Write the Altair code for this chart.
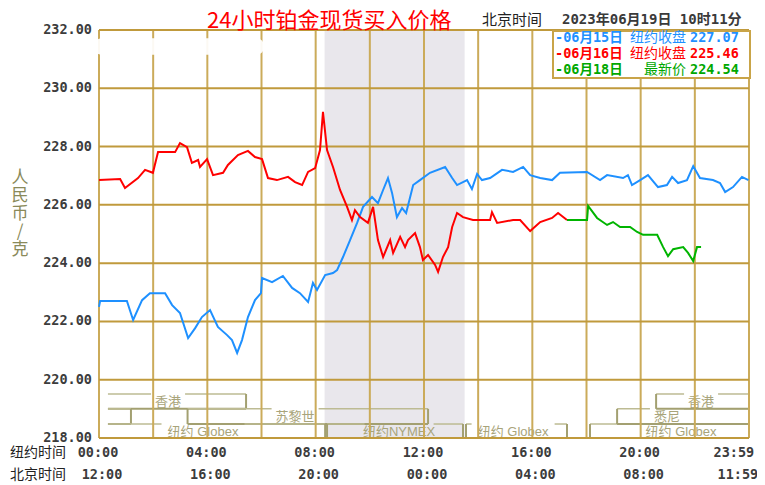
import altair as alt
import pandas as pd

# ---------------- data ----------------
blue_hours = [0.00, 0.04, 0.33, 1.03, 1.26, 1.59, 1.88, 2.44, 2.70, 2.99, 3.29, 3.55, 3.80, 4.10, 4.39,
              4.73, 4.91, 5.10, 5.28, 5.50, 5.76, 5.98, 6.02, 6.39, 6.79, 7.13, 7.42, 7.72, 7.90, 8.05,
              8.35, 8.64, 8.79, 9.01, 9.27, 9.53, 9.75, 10.08, 10.30, 10.49, 10.67, 10.82, 11.00, 11.19,
              11.34, 11.60, 11.85, 12.22, 12.78, 13.04, 13.22, 13.59, 13.77, 13.96, 14.14, 14.44, 14.88,
              15.29, 15.66, 15.92, 16.29, 16.73, 17.02, 18.02, 18.50, 18.76, 19.35, 19.53, 19.68, 19.98,
              20.27, 20.64, 20.97, 21.16, 21.38, 21.71, 21.94, 22.19, 22.67, 22.93, 23.12, 23.41, 23.74, 23.98]
blue_values = [222.50, 222.70, 222.70, 222.70, 222.05, 222.73, 222.97, 222.97, 222.56, 222.29, 221.43,
               221.77, 222.15, 222.39, 221.81, 221.53, 221.36, 220.92, 221.36, 222.15, 222.73, 222.97,
               223.49, 223.35, 223.56, 223.15, 222.97, 222.67, 223.32, 223.08, 223.59, 223.66, 223.76,
               224.21, 224.79, 225.38, 225.93, 226.27, 226.06, 226.51, 226.92, 226.41, 225.58, 225.89,
               225.72, 226.68, 226.85, 227.10, 227.30, 226.92, 226.68, 226.85, 226.54, 227.06, 226.85,
               226.92, 227.20, 227.13, 227.30, 227.02, 226.92, 226.85, 227.10, 227.13, 226.85, 227.02,
               226.92, 227.02, 226.68, 226.85, 227.02, 226.61, 226.68, 226.96, 226.75, 226.85, 227.33,
               226.92, 226.85, 226.75, 226.44, 226.61, 226.96, 226.85]

red_hours = [0.00, 0.78, 0.96, 1.44, 1.70, 1.99, 2.18, 2.81, 2.99, 3.25, 3.43, 3.66, 3.73, 3.99, 4.21,
             4.58, 4.76, 5.13, 5.50, 5.76, 6.02, 6.24, 6.57, 6.98, 7.24, 7.50, 7.72, 7.98, 8.16, 8.27,
             8.42, 8.64, 8.90, 9.16, 9.34, 9.45, 9.64, 9.93, 10.12, 10.30, 10.49, 10.75, 10.86, 11.12,
             11.30, 11.41, 11.67, 11.85, 11.96, 12.15, 12.41, 12.52, 12.70, 12.89, 13.04, 13.22, 13.44,
             13.81, 14.44, 14.51, 14.70, 15.29, 15.55, 15.92, 16.29, 16.73, 16.95, 17.28]
red_values = [226.85, 226.89, 226.58, 226.92, 227.20, 227.10, 227.81, 227.81, 228.12, 227.98, 227.44,
              227.54, 227.30, 227.57, 227.02, 227.10, 227.37, 227.71, 227.85, 227.64, 227.57, 226.92,
              226.85, 226.96, 226.78, 226.68, 227.13, 227.26, 227.88, 229.19, 227.88, 227.30, 226.51,
              225.93, 225.48, 225.82, 225.58, 225.38, 225.93, 224.79, 224.21, 224.79, 224.35, 224.90,
              224.55, 224.79, 225.03, 224.55, 224.11, 224.28, 223.94, 223.70, 224.21, 224.55, 225.24,
              225.72, 225.58, 225.48, 225.48, 225.75, 225.38, 225.48, 225.48, 225.10, 225.41, 225.55,
              225.72, 225.48]

green_hours = [17.28, 18.02, 18.06, 18.39, 18.76, 18.98, 19.24, 19.61, 19.87, 20.09, 20.61, 20.83,
               21.01, 21.20, 21.57, 21.75, 21.94, 22.08, 22.23]
green_values = [225.48, 225.48, 225.96, 225.55, 225.31, 225.41, 225.24, 225.24, 225.07, 224.97, 224.97,
                224.55, 224.24, 224.48, 224.55, 224.35, 224.07, 224.55, 224.55]

series_names = ["06月15日", "06月16日", "06月18日"]
series_colors = ["#1e90ff", "#ff0000", "#00b400"]

y_ticks = [218, 220, 222, 224, 226, 228, 230, 232]
grid_hours = list(range(0, 25, 2))

tick_hours = [0, 4, 8, 12, 16, 20, 23.48]
ny_labels = ["00:00", "04:00", "08:00", "12:00", "16:00", "20:00", "23:59"]
bj_labels = ["12:00", "16:00", "20:00", "00:00", "04:00", "08:00", "11:59"]
row_names = ["纽约时间", "北京时间"]

nymex_span = [8.33, 13.5]

session_labels = ["香港", "", "苏黎世", "纽约 Globex", "纽约NYMEX", "纽约 Globex", "纽约 Globex", "悉尼", "香港"]
session_start = [0.33, 0.33, 3.27, 0.33, 8.42, 13.55, 18.13, 19.13, 20.57]
session_end = [5.43, 1.18, 12.15, 8.35, 13.44, 17.28, 24.0, 24.0, 24.0]
session_row = [1, 2, 2, 3, 3, 3, 3, 2, 1]
session_label_hour = [2.55, 0, 7.24, 3.84, 11.08, 15.29, 21.49, 20.97, 22.23]
session_open_left = [True, True, False, True, False, False, False, False, False]
session_open_right = [False, False, False, False, False, False, True, True, True]
row_top = [219.51, 219.0, 218.48]
row_bottom = [219.0, 218.48, 218.0]

watermark_hours = [-0.2, 6.1]
watermark_values = [231.15, 231.72]

legend_dates = ["-06月15日", "-06月16日", "-06月18日"]
legend_kinds = ["纽约收盘", "纽约收盘", "最新价"]
legend_values = ["227.07", "225.46", "224.54"]
legend_colors = ["#1e90ff", "#ff0000", "#00a800"]

title_text = "24小时铂金现货买入价格"
clock_label = "北京时间"
clock_text = "2023年06月19日 10时11分"
y_title_chars = ["人", "民", "币", "/", "克"]

# ---------------- layout / style ----------------
W, H = 650, 408
PXH = W / 24.0
MONO = "DejaVu Sans Mono, Noto Sans CJK SC"
CJK = "Noto Sans CJK SC"
SESS_FONT = "Liberation Sans, Noto Sans CJK SC"
GOLD_V = "#cbab5a"
GOLD_H = "#c09a3c"
BOX_LIGHT = "#bdbb93"
BOX_DARK = "#a3a071"
SESS_TEXT = "#a8a47a"
LABEL_GREY = "#3c3c3c"

xs = alt.Scale(domain=[0, 24], nice=False, zero=False)
ys = alt.Scale(domain=[218, 232], nice=False, zero=False)


def X(f):
    return alt.X(f, type="quantitative", scale=xs, axis=None)


def Y(f):
    return alt.Y(f, type="quantitative", scale=ys, axis=None)


one = pd.DataFrame({"k": [0]})

# shaded NYMEX window
shade = alt.Chart(pd.DataFrame({"s": [nymex_span[0]], "e": [nymex_span[1]]})).mark_rect(
    color="#e9e7ec").encode(x=X("s"), x2="e", y=alt.value(0), y2=alt.value(H))


# trading-session brackets
def half_width(s):
    px = sum(13 if ord(c) > 0x2E80 else 7 for c in s) + 8
    return px / 2.0 / PXH


segs = []
labs = []
for lab, s, e, r, lh, ol, orr in zip(session_labels, session_start, session_end, session_row,
                                      session_label_hour, session_open_left, session_open_right):
    top, bot = row_top[r - 1], row_bottom[r - 1]
    if lab:
        hw = half_width(lab)
        segs.append(dict(x=s, x2=lh - hw, y=top, y2=top, c=BOX_LIGHT, w=1.5))
        segs.append(dict(x=lh + hw, x2=e, y=top, y2=top, c=BOX_LIGHT, w=1.5))
        labs.append(dict(t=lab, h=lh, v=(top + bot) / 2.0))
    else:
        segs.append(dict(x=s, x2=e, y=top, y2=top, c=BOX_LIGHT, w=1.5))
    segs.append(dict(x=s, x2=e, y=bot, y2=bot, c=BOX_DARK, w=2))
    if not ol:
        segs.append(dict(x=s, x2=s, y=top, y2=bot, c=BOX_DARK, w=2))
    if not orr:
        segs.append(dict(x=e, x2=e, y=top, y2=bot, c=BOX_DARK, w=2))
seg_df = pd.DataFrame(segs)
lab_df = pd.DataFrame(labs)

sessions = alt.Chart(seg_df).mark_rule().encode(
    x=X("x"), x2="x2", y=Y("y"), y2="y2",
    color=alt.Color("c:N", scale=None),
    strokeWidth=alt.StrokeWidth("w:Q", scale=None))
session_text = alt.Chart(lab_df).mark_text(
    font=SESS_FONT, fontSize=13, color=SESS_TEXT, baseline="middle", dy=1).encode(
    x=X("h"), y=Y("v"), text="t:N")

# grid (also forms the frame)
vgrid = alt.Chart(pd.DataFrame({"h": grid_hours})).mark_rule(color=GOLD_V, strokeWidth=2).encode(
    x=X("h"), y=alt.value(0), y2=alt.value(H))
hgrid = alt.Chart(pd.DataFrame({"v": y_ticks})).mark_rule(color=GOLD_H, strokeWidth=2).encode(
    y=Y("v"), x=alt.value(0), x2=alt.value(W))

# y tick labels
ylab_df = pd.DataFrame({"v": y_ticks, "t": ["%.2f" % v for v in y_ticks]})
ylabels = alt.Chart(ylab_df).mark_text(
    font="DejaVu Sans Mono", fontWeight="bold", fontSize=13.5, color=LABEL_GREY,
    align="right", baseline="middle").encode(x=alt.value(-7), y=Y("v"), text="t:N")

# price lines
lines_df = pd.concat([
    pd.DataFrame({"h": blue_hours, "v": blue_values, "s": series_names[0]}),
    pd.DataFrame({"h": red_hours, "v": red_values, "s": series_names[1]}),
    pd.DataFrame({"h": green_hours, "v": green_values, "s": series_names[2]}),
], ignore_index=True)
lines = alt.Chart(lines_df).mark_line(strokeWidth=2).encode(
    x=X("h"), y=Y("v"),
    color=alt.Color("s:N", scale=alt.Scale(domain=series_names, range=series_colors), legend=None),
    order="h:Q")

# white smudge at top left
smudge = alt.Chart(pd.DataFrame({"x": [watermark_hours[0]], "x2": [watermark_hours[1]],
                                 "y": [watermark_values[0]], "y2": [watermark_values[1]]})).mark_rect(
    color="white", opacity=0.93, cornerRadius=8).encode(x=X("x"), x2="x2", y=Y("y"), y2="y2")

# legend box
leg_box = alt.Chart(one).mark_rect(fill="white", stroke="#c9a448", strokeWidth=2).encode(
    x=alt.value(454), x2=alt.value(651), y=alt.value(1), y2=alt.value(48))
leg_df = pd.DataFrame({"d": legend_dates, "k": legend_kinds, "val": legend_values,
                       "c": legend_colors, "yp": [8 + 16 * i for i in range(len(legend_dates))]})
leg_base = alt.Chart(leg_df)
leg_d = leg_base.mark_text(font=MONO, fontWeight="bold", fontSize=13.5, align="left",
                           baseline="middle").encode(
    x=alt.value(456), y=alt.Y("yp:Q", scale=None, axis=None), text="d:N",
    color=alt.Color("c:N", scale=None))
leg_k = leg_base.mark_text(font=CJK, fontSize=14, align="right", baseline="middle").encode(
    x=alt.value(587), y=alt.Y("yp:Q", scale=None, axis=None), text="k:N",
    color=alt.Color("c:N", scale=None))
leg_v = leg_base.mark_text(font=MONO, fontWeight="bold", fontSize=13.5, align="left",
                           baseline="middle").encode(
    x=alt.value(591), y=alt.Y("yp:Q", scale=None, axis=None), text="val:N",
    color=alt.Color("c:N", scale=None))

# titles
title = alt.Chart(pd.DataFrame({"t": [title_text]})).mark_text(
    font=CJK, fontSize=22, color="#ff0000", align="left", baseline="middle").encode(
    x=alt.value(108), y=alt.value(-9), text="t:N")
clock_l = alt.Chart(pd.DataFrame({"t": [clock_label]})).mark_text(
    font=CJK, fontSize=15, color="#222222", align="left", baseline="middle").encode(
    x=alt.value(383), y=alt.value(-10), text="t:N")
clock_t = alt.Chart(pd.DataFrame({"t": [clock_text]})).mark_text(
    font=MONO, fontWeight="bold", fontSize=14, color="#3a3a3a", align="left", baseline="middle").encode(
    x=alt.value(463), y=alt.value(-10), text="t:N")
ytitle = alt.Chart(pd.DataFrame({"t": ["\n".join(y_title_chars)]})).mark_text(
    font=CJK, fontSize=17, lineHeight=18, lineBreak="\n", color="#8a8a5a",
    align="center", baseline="middle").encode(
    x=alt.value(-79), y=alt.value(148), text="t:N")

# x labels (two time zones)
tick_df = pd.DataFrame({"h": tick_hours, "ny": ny_labels, "bj": bj_labels})
ny_text = alt.Chart(tick_df).mark_text(font="DejaVu Sans Mono", fontWeight="bold", fontSize=13.5,
                                       color=LABEL_GREY, baseline="middle", dx=-1).encode(
    x=X("h"), y=alt.value(H + 15), text="ny:N")
bj_text = alt.Chart(tick_df).mark_text(font="DejaVu Sans Mono", fontWeight="bold", fontSize=13.5,
                                       color=LABEL_GREY, baseline="middle", dx=3).encode(
    x=X("h"), y=alt.value(H + 37), text="bj:N")
row_df = pd.DataFrame({"t": row_names, "yp": [H + 15, H + 37]})
row_text = alt.Chart(row_df).mark_text(font=CJK, fontSize=14, color="#222222", align="left",
                                       baseline="middle").encode(
    x=alt.value(-89), y=alt.Y("yp:Q", scale=None, axis=None), text="t:N")

chart = alt.layer(
    shade, sessions, session_text, vgrid, hgrid, lines, smudge, ylabels,
    leg_box, leg_d, leg_k, leg_v,
    title, clock_l, clock_t, ytitle, ny_text, bj_text, row_text,
).properties(
    width=W, height=H,
    padding={"left": 91, "top": 22, "right": 8, "bottom": 47},
    autosize=alt.AutoSizeParams(type="none"),
    background="white",
).configure_view(strokeWidth=0)

chart.save("out.html", embed_options={"renderer": "svg", "actions": False})
